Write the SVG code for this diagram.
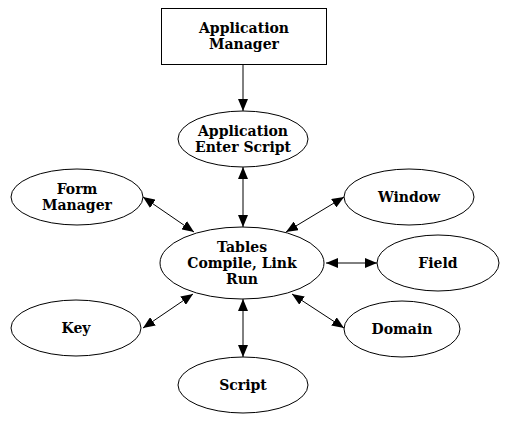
<svg xmlns="http://www.w3.org/2000/svg" width="520" height="424" viewBox="0 0 520 424">
<style>
.n{fill:#fff;stroke:#000;stroke-width:1}
.t{font-family:"DejaVu Serif","Liberation Serif",serif;font-weight:bold;font-size:14px;text-anchor:middle;fill:#000}
.c{stroke:#000;stroke-width:1;fill:none}
</style>
<defs>
<marker id="ah" viewBox="0 0 12 10" refX="12" refY="5" markerWidth="12" markerHeight="10" markerUnits="userSpaceOnUse" orient="auto-start-reverse">
<path d="M0,0 L12,5 L0,10 Z" fill="#000"/>
</marker>
</defs>
<rect width="520" height="424" fill="#fff"/>
<g id="connectors">
<line class="c" x1="243" y1="64" x2="243" y2="111" marker-end="url(#ah)"/>
<line class="c" x1="243" y1="167" x2="243" y2="227" marker-start="url(#ah)" marker-end="url(#ah)"/>
<line class="c" x1="143" y1="197" x2="194" y2="232" marker-start="url(#ah)" marker-end="url(#ah)"/>
<line class="c" x1="344" y1="197" x2="286" y2="232" marker-start="url(#ah)" marker-end="url(#ah)"/>
<line class="c" x1="326" y1="263" x2="377" y2="263" marker-start="url(#ah)" marker-end="url(#ah)"/>
<line class="c" x1="143" y1="328" x2="193" y2="294" marker-start="url(#ah)" marker-end="url(#ah)"/>
<line class="c" x1="344" y1="328" x2="292" y2="294" marker-start="url(#ah)" marker-end="url(#ah)"/>
<line class="c" x1="243" y1="299" x2="243" y2="357" marker-start="url(#ah)" marker-end="url(#ah)"/>
</g>
<g id="app-manager">
<rect class="n" x="161.5" y="8.5" width="165" height="56"/>
<text class="t" x="244" y="33">Application</text>
<text class="t" x="244" y="49">Manager</text>
</g>
<g id="app-enter-script">
<ellipse class="n" cx="243" cy="139" rx="65" ry="28"/>
<text class="t" x="243" y="136">Application</text>
<text class="t" x="243" y="152">Enter Script</text>
</g>
<g id="form-manager">
<ellipse class="n" cx="77" cy="197" rx="66" ry="28"/>
<text class="t" x="77" y="194">Form</text>
<text class="t" x="77" y="210">Manager</text>
</g>
<g id="window">
<ellipse class="n" cx="409" cy="197" rx="65" ry="28"/>
<text class="t" x="409" y="202">Window</text>
</g>
<g id="tables">
<ellipse class="n" cx="242" cy="263" rx="82" ry="36"/>
<text class="t" x="242" y="252">Tables</text>
<text class="t" x="242" y="268">Compile, Link</text>
<text class="t" x="242" y="284">Run</text>
</g>
<g id="field">
<ellipse class="n" cx="438" cy="263" rx="61" ry="28"/>
<text class="t" x="438" y="268">Field</text>
</g>
<g id="key">
<ellipse class="n" cx="76" cy="328" rx="65" ry="28"/>
<text class="t" x="76" y="333">Key</text>
</g>
<g id="domain">
<ellipse class="n" cx="402" cy="329" rx="58" ry="28"/>
<text class="t" x="402" y="334">Domain</text>
</g>
<g id="script">
<ellipse class="n" cx="243" cy="385" rx="65" ry="28"/>
<text class="t" x="243" y="390">Script</text>
</g>
</svg>
